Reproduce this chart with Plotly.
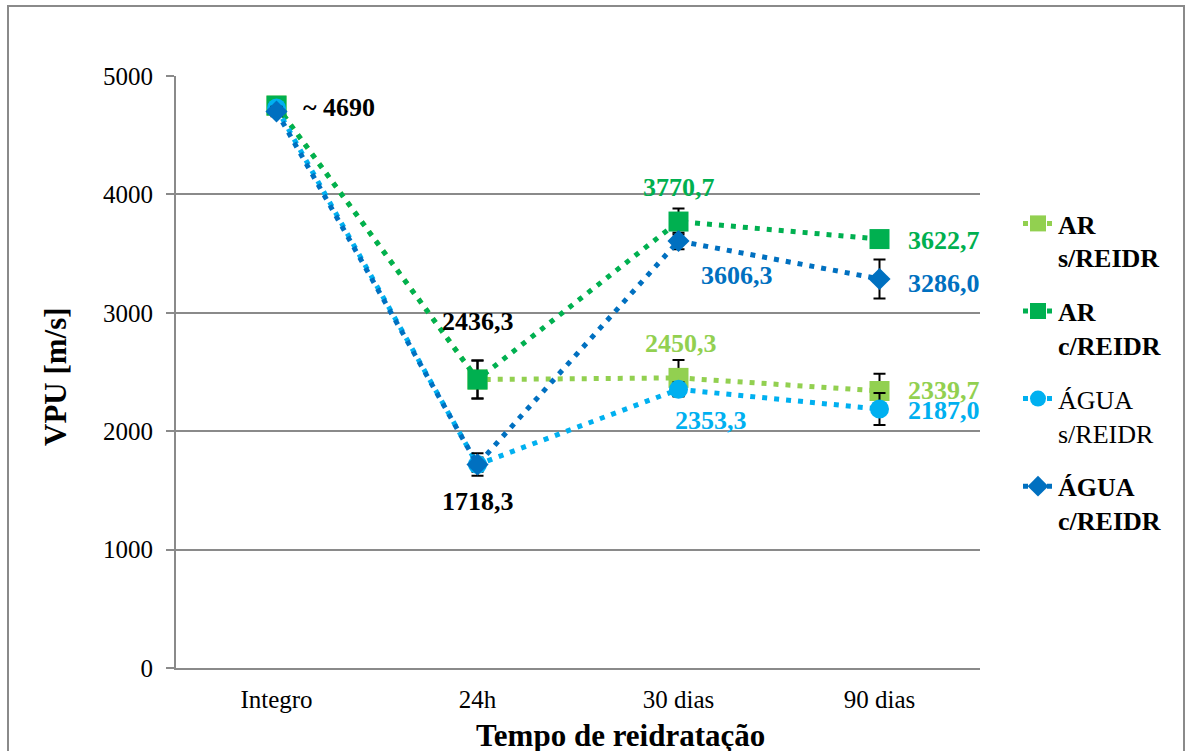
import plotly.graph_objects as go

categories = ["Integro", "24h", "30 dias", "90 dias"]
series_names = ["<b>AR<br>s/REIDR</b>", "<b>AR<br>c/REIDR</b>", "ÁGUA<br>s/REIDR", "<b>ÁGUA<br>c/REIDR</b>"]
colors = ["#92D050", "#00B050", "#00B0F0", "#0070C0"]
symbols = ["square", "square", "circle", "diamond"]
marker_sizes = [20, 20, 19, 17]

ar_s = [4750, 2436.3, 2450.3, 2339.7]
ar_c = [4750, 2436.3, 3770.7, 3622.7]
agua_s = [4730, 1718.3, 2353.3, 2187.0]
agua_c = [4700, 1718.3, 3606.3, 3286.0]
values = [ar_s, ar_c, agua_s, agua_c]

err_ar_s = [40, 160, 150, 145]
err_ar_c = [40, 160, 110, 50]
err_agua_s = [40, 60, 60, 135]
err_agua_c = [40, 95, 70, 165]
errors = [err_ar_s, err_ar_c, err_agua_s, err_agua_c]

y_ticks = [0, 1000, 2000, 3000, 4000, 5000]

# data labels: (category index, value, text, color, xanchor, xshift, yshift)
labels = [
    (0, ar_s[0], "~ 4690", "black", "left", 24, -2),
    (1, ar_s[1], "2436,3", "black", "center", 0, 58),
    (1, agua_c[1], "1718,3", "black", "center", 0, -37),
    (2, ar_c[2], "3770,7", "#00B050", "center", 0, 34),
    (2, agua_c[2], "3606,3", "#0070C0", "center", 58, -34),
    (2, ar_s[2], "2450,3", "#92D050", "center", 2, 34),
    (2, agua_s[2], "2353,3", "#00B0F0", "center", 32, -31),
    (3, ar_c[3], "3622,7", "#00B050", "left", 26, -1),
    (3, agua_c[3], "3286,0", "#0070C0", "left", 26, -5),
    (3, ar_s[3], "2339,7", "#92D050", "left", 26, 0),
    (3, agua_s[3], "2187,0", "#00B0F0", "left", 26, -1),
]

FONT = "Liberation Serif, Times New Roman, serif"

fig = go.Figure()
for i in range(4):
    fig.add_trace(go.Scatter(
        x=categories, y=values[i], name=series_names[i], mode="lines+markers",
        legendgroup=str(i),
        line=dict(color=colors[i], width=5, dash="5px,7px"),
        marker=dict(symbol=symbols[i], size=marker_sizes[i], color=colors[i]),
        error_y=dict(type="data", array=errors[i], color="black", thickness=2, width=6),
        cliponaxis=False,
    ))

for ci, v, t, c, xa, xs, ys in labels:
    fig.add_annotation(x=categories[ci], y=v, text="<b>%s</b>" % t, showarrow=False,
                       xanchor=xa, yanchor="middle", xshift=xs, yshift=ys,
                       font=dict(family=FONT, size=26, color=c))

L, R, T, B = 176, 206, 76, 83
W, H = 1186, 751
pw, ph = W - L - R, H - T - B

def px_x(px):
    return (px - L) / pw

def px_y(py):
    return (H - B - py) / ph

fig.add_annotation(xref="paper", yref="paper", x=px_x(620), y=px_y(735), text="<b>Tempo de reidratação</b>",
                   showarrow=False, xanchor="center", yanchor="middle",
                   font=dict(family=FONT, size=31, color="black"))
fig.add_annotation(xref="paper", yref="paper", x=px_x(55), y=px_y(377), text="<b>VPU [m/s]</b>",
                   showarrow=False, textangle=-90, xanchor="center", yanchor="middle",
                   font=dict(family=FONT, size=31, color="black"))

fig.add_shape(type="rect", xref="paper", yref="paper",
              x0=px_x(8), x1=px_x(1184), y0=px_y(790), y1=px_y(6),
              line=dict(color="#8a8a8a", width=2), layer="below")

fig.update_layout(
    width=W, height=H,
    margin=dict(l=L, r=R, t=T, b=B),
    paper_bgcolor="white", plot_bgcolor="white",
    font=dict(family=FONT, size=25, color="black"),
    showlegend=True,
    legend=dict(x=px_x(1018), y=px_y(200), xanchor="left", yanchor="top",
                font=dict(family=FONT, size=26), valign="top",
                tracegroupgap=17, bgcolor="rgba(0,0,0,0)"),
    xaxis=dict(type="category", showgrid=False, showline=True, linecolor="#8a8a8a", linewidth=2,
               ticks="", tickfont=dict(size=25), range=[-0.5, 3.5], fixedrange=True,
               ticklabelstandoff=8),
    yaxis=dict(range=[0, 5000], tickvals=y_ticks, showgrid=True, gridcolor="#8a8a8a", gridwidth=2,
               showline=True, linecolor="#8a8a8a", linewidth=2, ticks="outside", ticklen=8,
               tickcolor="#8a8a8a", tickwidth=2, tickfont=dict(size=25), zeroline=False,
               ticklabelstandoff=8),
)

fig.write_html("out.html")
